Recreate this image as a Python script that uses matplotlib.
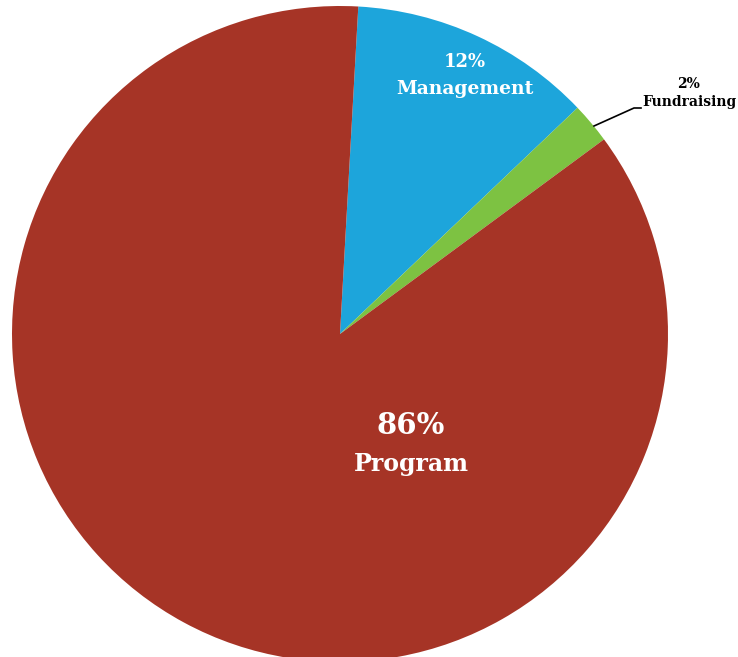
import matplotlib.pyplot as plt

labels = ["Management", "Fundraising", "Program"]
shares = [12, 2, 86]
colors = ["#1DA5DB", "#7DC242", "#A63426"]

W, H = 738, 657
fig = plt.figure(figsize=(W / 100, H / 100), dpi=100)
ax = fig.add_axes([0, 0, 1, 1])
ax.set_xlim(0, W)
ax.set_ylim(0, H)
ax.set_aspect("equal")
ax.axis("off")

cx, cy, r = 340, H - 334, 328
ax.pie(shares, colors=colors, startangle=86.8, counterclock=False,
       center=(cx, cy), radius=r, frame=True,
       wedgeprops=dict(linewidth=0))
ax.set_xlim(0, W)
ax.set_ylim(0, H)
ax.axis("off")

font = dict(family="DejaVu Serif", fontweight="bold", ha="center", va="center")

# Management label
ax.text(465, H - 62, f"{shares[0]}%", color="white", fontsize=13, **font)
ax.text(465, H - 89, labels[0], color="white", fontsize=13.5, **font)

# Program label
ax.text(411, H - 426, f"{shares[2]}%", color="white", fontsize=21, **font)
ax.text(411, H - 464, labels[2], color="white", fontsize=17, **font)

# Fundraising label with leader line
ax.text(689, H - 84, f"{shares[1]}%", color="black", fontsize=10, **font)
ax.text(689, H - 102, labels[1], color="black", fontsize=10, **font)
ax.plot([594, 634, 641], [H - 126, H - 108, H - 108], color="black", lw=1.2)

fig.savefig("out.png", dpi=100, facecolor="white")
